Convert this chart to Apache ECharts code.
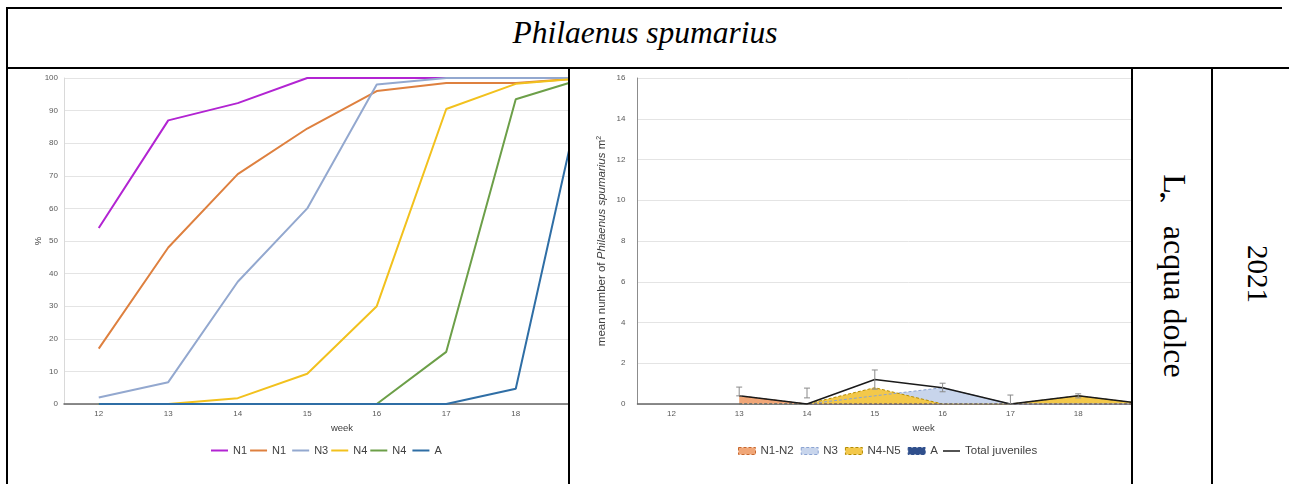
<!DOCTYPE html>
<html>
<head>
<meta charset="utf-8">
<script src="https://cdn.jsdelivr.net/npm/echarts@6/dist/echarts.min.js"></script>
<style>
  html, body { margin: 0; padding: 0; background: #fff; }
  body { position: relative; width: 1289px; height: 484px; overflow: hidden; }
  .rule { position: absolute; background: #000; }
  .cell { position: absolute; overflow: hidden; }
  #title {
    position: absolute; left: 9px; top: 4px; width: 1272px; height: 58px;
    display: flex; align-items: center; justify-content: center;
    font-family: "Liberation Serif", serif; font-style: italic; font-size: 31.5px; color: #000;
  }
  .vt {
    position: absolute; white-space: nowrap; color: #000;
    font-family: "Liberation Serif", serif;
    transform: translate(-50%, -50%) rotate(90deg);
  }
  /* full-width apostrophe kept upright inside the rotated line */
  .cjk {
    display: inline-block; width: 0.75em; height: 1em; line-height: 1em;
    vertical-align: middle; text-align: left;
    font-family: "Noto Sans CJK SC", sans-serif;
    transform: rotate(-90deg);
  }
</style>
</head>
<body>
  <!-- table frame -->
  <div class="rule" style="left:6px;top:7px;width:1276px;height:2px;"></div>
  <div class="rule" style="left:6px;top:7px;width:2px;height:477px;"></div>
  <div class="rule" style="left:6px;top:67px;width:1283px;height:2px;"></div>
  <div class="rule" style="left:568px;top:67px;width:2px;height:417px;"></div>
  <div class="rule" style="left:1131px;top:67px;width:2px;height:417px;"></div>
  <div class="rule" style="left:1211px;top:67px;width:2px;height:417px;"></div>

  <div id="title">Philaenus spumarius</div>
  <div class="vt" style="left:1174px;top:276px;font-size:32px;">L<span class="cjk">’</span> acqua dolce</div>
  <div class="vt" style="left:1257px;top:274px;font-size:29px;">2021</div>

  <div class="cell" style="left:9px;top:70px;width:559px;height:414px;">
    <div id="stage" style="width:700px;height:414px;"></div>
  </div>
  <div class="cell" style="left:571px;top:70px;width:560px;height:414px;">
    <div id="density" style="width:720px;height:414px;"></div>
  </div>

<script>
// sampling weeks
const weeks = ['12', '13', '14', '15', '16', '17', '18', '19'];

// cumulative share of individuals that reached each stage (%)
const cumN1a = [54, 87, 92.3, 100, 100, 100, 100, 100];
const cumN1b = [17, 48, 70.5, 84.5, 96, 98.5, 98.5, 100];
const cumN3  = [2, 6.7, 37.5, 60, 98, 100, 100, 100];
const cumN4a = [0, 0, 1.8, 9.3, 30, 90.5, 98.2, 100];
const cumN4b = [0, 0, 0, 0, 0, 16, 93.5, 100];
const cumA   = [0, 0, 0, 0, 0, 0, 4.7, 100];

// mean number of individuals per m2 by stage
const denN1N2  = [null, 0.4, 0, 0, 0, 0, 0, 0];
const denN3    = [null, 0, 0, 0.4, 0.8, 0, 0, 0];
const denN4N5  = [null, 0, 0, 0.8, 0, 0, 0.4, 0];
const denA     = [null, 0, 0, 0, 0, 0, 0, 0];
const denTotal = [null, 0.4, 0, 1.2, 0.8, 0, 0.4, 0];

// error bar extents for the juvenile totals
const errLow  = [null, 0.4, 0.3, 0.73, 0.6, 0, 0.3, null];
const errHigh = [null, 0.83, 0.78, 1.67, 1.02, 0.44, 0.5, null];

const sans = '"Liberation Sans", Arial, sans-serif';
const tickText = { fontFamily: sans, fontSize: 8, color: '#595959' };

// ---- left panel: cumulative stage curves ----
const stageChart = echarts.init(document.getElementById('stage'), null, { renderer: 'canvas' });
function stageLine(name, data, color) {
  return {
    name, type: 'line', data, symbol: 'none', showSymbol: false, smooth: false,
    lineStyle: { width: 2, color }, itemStyle: { color }
  };
}
stageChart.setOption({
  animation: false,
  grid: { left: 55, top: 8, width: 556, height: 326 },
  xAxis: {
    type: 'category', data: weeks, boundaryGap: true,
    name: 'week', nameLocation: 'middle', nameGap: 15,
    nameTextStyle: { fontFamily: sans, fontSize: 9.5, color: '#404040' },
    axisLine: { lineStyle: { color: '#666666', width: 1.5 } },
    axisTick: { show: false },
    axisLabel: Object.assign({ margin: 6 }, tickText)
  },
  yAxis: {
    type: 'value', min: 0, max: 100, interval: 10,
    name: '%', nameLocation: 'middle', nameGap: 21, nameMoveOverlap: false,
    nameTextStyle: { fontFamily: sans, fontSize: 9.5, color: '#404040' },
    axisLine: { show: true, lineStyle: { color: '#d9d9d9' } },
    axisTick: { show: false },
    splitLine: { lineStyle: { color: '#e4e4e4' } },
    axisLabel: Object.assign({ margin: 6 }, tickText)
  },
  legend: {
    left: 197, top: 370, icon: 'rect', itemWidth: 17, itemHeight: 2, itemGap: 3,
    textStyle: { fontFamily: sans, fontSize: 11, color: '#404040' },
    data: ['N1', 'N1 ', 'N3', 'N4', 'N4 ', 'A']
  },
  series: [
    stageLine('N1', cumN1a, '#b224d2'),
    stageLine('N1 ', cumN1b, '#de803f'),
    stageLine('N3', cumN3, '#93a8cf'),
    stageLine('N4', cumN4a, '#f2c11d'),
    stageLine('N4 ', cumN4b, '#6c9f48'),
    stageLine('A', cumA, '#2f6ea5')
  ]
});

// ---- right panel: stage densities ----
const densityChart = echarts.init(document.getElementById('density'), null, { renderer: 'canvas' });
const stages = [
  { name: 'N1-N2', data: denN1N2, fill: '#f0a677', edge: '#c8682e' },
  { name: 'N3',    data: denN3,   fill: '#c8d5ec', edge: '#8aa3d2' },
  { name: 'N4-N5', data: denN4N5, fill: '#f3c84a', edge: '#b58c00' },
  { name: 'A',     data: denA,    fill: '#2f4f8c', edge: '#2f4f8c' }
];
const areaSeries = stages.map(s => ({
  name: s.name, type: 'line', data: s.data, symbol: 'none', showSymbol: false, z: 2,
  lineStyle: { width: 0, color: s.edge }, itemStyle: { color: s.fill },
  areaStyle: { color: s.fill, opacity: 1 }
}));
const edgeSeries = stages.map(s => ({
  name: s.name, type: 'line', data: s.data, symbol: 'none', showSymbol: false, z: 3, silent: true,
  lineStyle: { width: 1, type: [3, 2], color: s.edge }, itemStyle: { color: s.edge }
}));
const errData = errLow
  .map((lo, i) => (lo === null ? null : [i, lo, errHigh[i]]))
  .filter(d => d !== null);

const legendText = { fontFamily: sans, fontSize: 11.5, color: '#404040' };

densityChart.setOption({
  animation: false,
  grid: { left: 66.5, top: 8, width: 542.4, height: 326 },
  xAxis: {
    type: 'category', data: weeks, boundaryGap: true,
    name: 'week', nameLocation: 'middle', nameGap: 15,
    nameTextStyle: { fontFamily: sans, fontSize: 9.5, color: '#404040', padding: [0, 0, 0, 30] },
    axisLine: { lineStyle: { color: '#666666', width: 1.5 } },
    axisTick: { show: false },
    axisLabel: Object.assign({ margin: 6 }, tickText)
  },
  yAxis: {
    type: 'value', min: 0, max: 16, interval: 2,
    name: '{n|mean number of }{i|Philaenus spumarius}{n| m}{s|2}',
    nameLocation: 'middle', nameGap: 29, nameMoveOverlap: false,
    nameTextStyle: {
      rich: {
        n: { fontFamily: sans, fontSize: 11.5, color: '#404040' },
        i: { fontFamily: sans, fontSize: 11.5, fontStyle: 'italic', color: '#404040' },
        s: { fontFamily: sans, fontSize: 7, color: '#404040', verticalAlign: 'top', padding: [0, 0, 6, 0] }
      }
    },
    axisLine: { show: true, lineStyle: { color: '#8c8c8c' } },
    axisTick: { show: false },
    splitLine: { lineStyle: { color: '#e4e4e4' } },
    axisLabel: Object.assign({ margin: 12 }, tickText)
  },
  legend: [
    {
      left: 162, top: 370, itemWidth: 17, itemHeight: 7, itemGap: 7,
      textStyle: legendText,
      data: stages.map(s => ({
        name: s.name, icon: 'rect',
        itemStyle: { color: s.fill, borderColor: s.edge, borderWidth: 1, borderType: [3, 2] }
      }))
    },
    {
      left: 367, top: 370, itemWidth: 17, itemHeight: 1.5, icon: 'rect',
      textStyle: legendText,
      data: [{ name: 'Total juveniles', itemStyle: { color: '#1a1a1a' } }]
    }
  ],
  series: areaSeries.concat(edgeSeries).concat([
    {
      name: 'Total juveniles', type: 'line', data: denTotal, symbol: 'none', showSymbol: false, z: 4,
      lineStyle: { width: 1.5, color: '#1a1a1a' }, itemStyle: { color: '#1a1a1a' }
    },
    {
      type: 'custom', z: 5, silent: true, data: errData,
      encode: { x: 0, y: [1, 2] },
      renderItem(params, api) {
        const idx = api.value(0);
        const lo = api.coord([idx, api.value(1)]);
        const hi = api.coord([idx, api.value(2)]);
        const cap = 3;
        const st = { stroke: '#8a8a8a', lineWidth: 1 };
        return {
          type: 'group',
          children: [
            { type: 'line', shape: { x1: lo[0], y1: lo[1], x2: hi[0], y2: hi[1] }, style: st },
            { type: 'line', shape: { x1: hi[0] - cap, y1: hi[1], x2: hi[0] + cap, y2: hi[1] }, style: st },
            { type: 'line', shape: { x1: lo[0] - cap, y1: lo[1], x2: lo[0] + cap, y2: lo[1] }, style: st }
          ]
        };
      }
    }
  ])
});
</script>
</body>
</html>
